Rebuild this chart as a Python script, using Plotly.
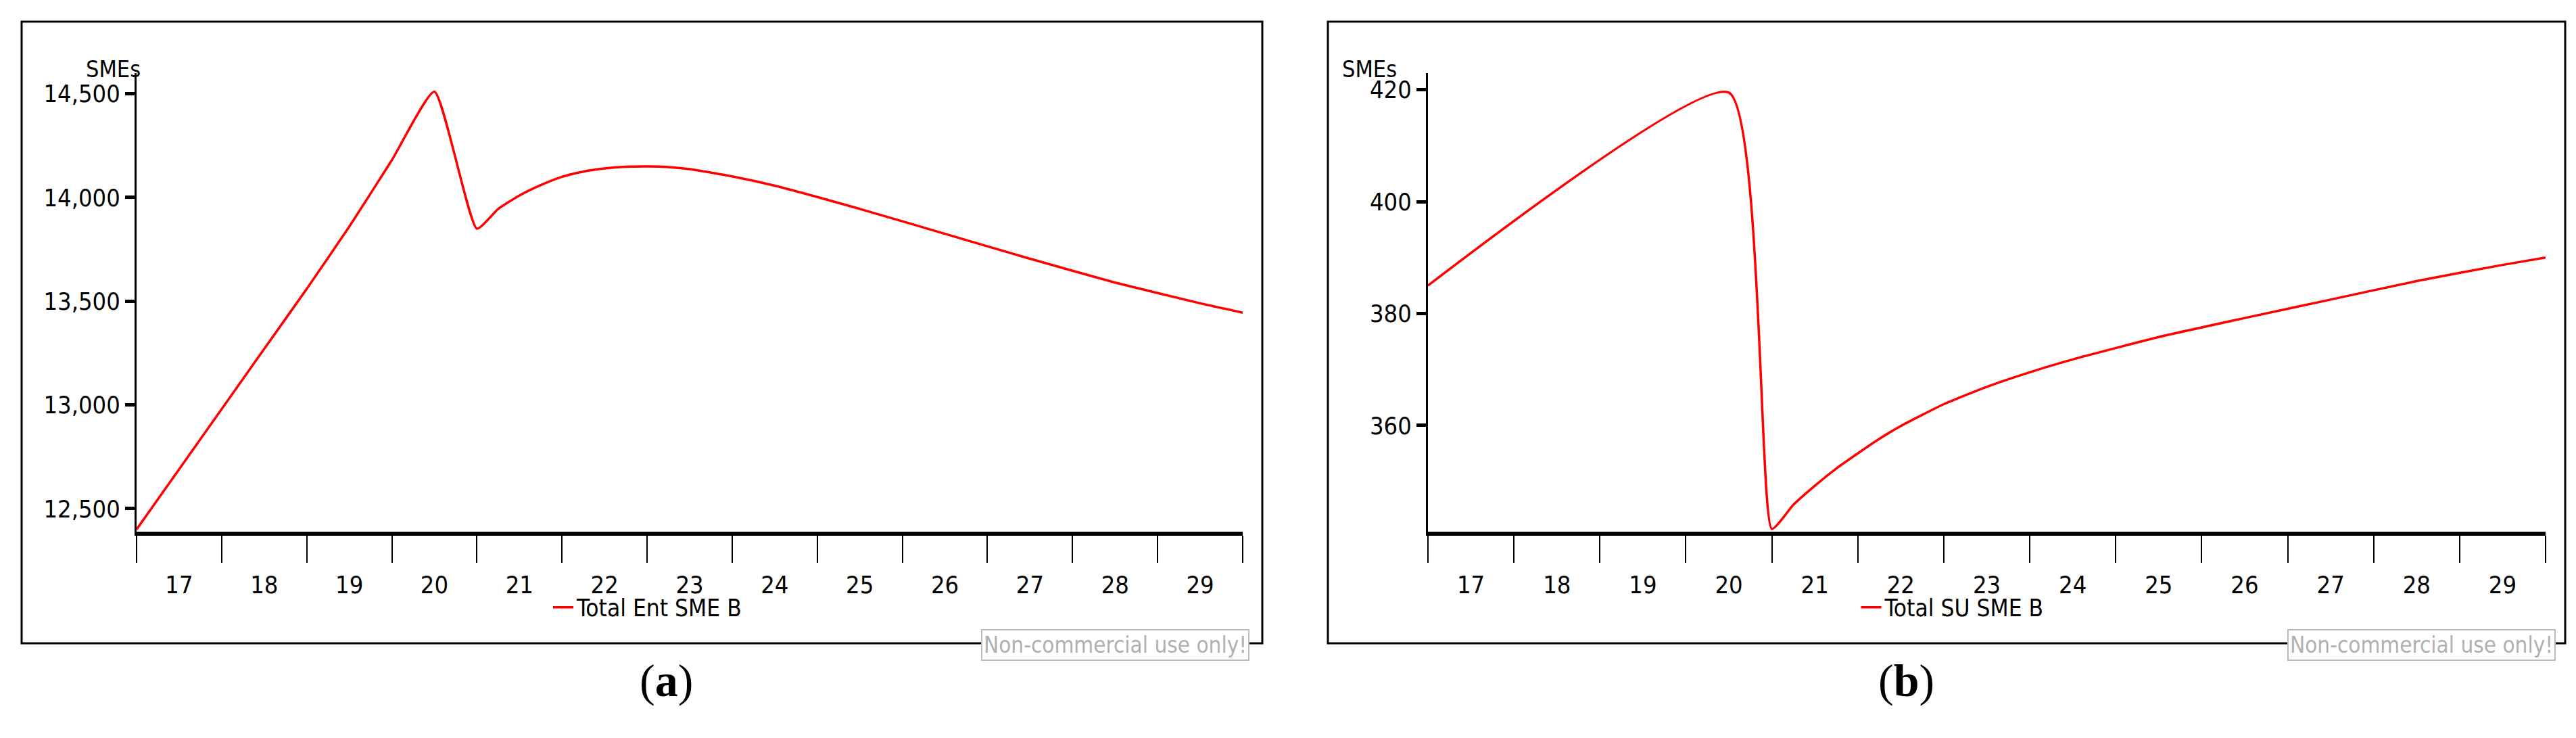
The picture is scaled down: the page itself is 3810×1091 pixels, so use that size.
import plotly.graph_objects as go

W, H = 3810, 1091
xa = [16.5, 17, 17.5, 18, 18.5, 19, 19.5, 20, 20.5, 20.75, 21, 21.25, 21.5, 21.75, 22, 22.25, 22.5, 22.75, 23, 23.5, 24, 25, 26, 27, 28, 29, 29.5]
ya = [12400, 12690, 12980, 13270, 13560, 13860, 14180, 14510, 13850, 13945, 14010, 14060, 14100, 14125, 14140, 14148, 14150, 14147, 14137, 14102, 14057, 13945, 13825, 13705, 13590, 13490, 13445]
xb = [16.5, 20, 20.5, 20.75, 21, 21.25, 21.5, 21.75, 22, 22.5, 23, 23.5, 24, 25, 26, 27, 28, 29, 29.5]
yb = [385, 419.5, 341.5, 345.8, 349.2, 352.3, 355, 357.6, 359.9, 363.8, 366.9, 369.5, 371.8, 375.8, 379.2, 382.5, 385.8, 388.7, 390]
xticks = list(range(17, 30))
yticks_a = [12500, 13000, 13500, 14000, 14500]
ytext_a = ["12,500", "13,000", "13,500", "14,000", "14,500"]
yticks_b = [360, 380, 400, 420]

FONT = "DejaVu Sans Condensed, DejaVu Sans"
fig = go.Figure()
fig.add_trace(go.Scatter(x=xa, y=ya, mode="lines", line=dict(color="#ff0000", width=3.5, shape="spline", smoothing=0.5),
                         name="Total Ent SME B", xaxis="x", yaxis="y", legend="legend"))
fig.add_trace(go.Scatter(x=xb, y=yb, mode="lines", line=dict(color="#ff0000", width=3.5, shape="spline", smoothing=0.5),
                         name="Total SU SME B", xaxis="x2", yaxis="y2", legend="legend2"))

yd = [1 - 778 / H, 1 - 100 / H]
def xax(dom, anchor):
    return dict(domain=dom, anchor=anchor, range=[16.5, 29.5], tickvals=xticks, ticks="",
                showgrid=False, zeroline=False, showline=True, linecolor="black", linewidth=6,
                tickfont=dict(size=36, color="black", family=FONT), ticklabelstandoff=42,
                minor=dict(ticks="outside", tick0=16.5, dtick=1, ticklen=40, tickwidth=2, tickcolor="black"))
def yax(dom, anchor, rng, tv, tt):
    return dict(domain=dom, anchor=anchor, range=rng, tickvals=tv, ticktext=tt, ticks="outside",
                ticklen=14, tickwidth=5, tickcolor="black", showgrid=False, zeroline=False,
                showline=True, linecolor="black", linewidth=3,
                tickfont=dict(size=36, color="black", family=FONT))

fig.update_layout(
    width=W, height=H, margin=dict(l=0, r=0, t=0, b=0),
    plot_bgcolor="white", paper_bgcolor="white",
    xaxis=xax([194 / W, 1830 / W], "y"),
    yaxis=yax(yd, "x", [12389, 14600], yticks_a, ytext_a),
    xaxis2=xax([2104 / W, 3757 / W], "y2"),
    yaxis2=yax(yd, "x2", [341, 423], yticks_b, [str(v) for v in yticks_b]),
    legend=dict(x=950 / W, y=1 - 890 / H, xanchor="center", yanchor="middle", orientation="h",
                font=dict(size=35, family=FONT, color="black"), bgcolor="rgba(0,0,0,0)"),
    legend2=dict(x=2880 / W, y=1 - 890 / H, xanchor="center", yanchor="middle", orientation="h",
                 font=dict(size=35, family=FONT, color="black"), bgcolor="rgba(0,0,0,0)"),
    showlegend=True,
)

for x0, x1 in [(24, 1859), (1956, 3786)]:
    fig.add_shape(type="rect", xref="paper", yref="paper", x0=x0 / W, x1=x1 / W,
                  y0=1 - 943 / H, y1=1 - 24 / H, line=dict(color="black", width=3), layer="below")
for xr in [1840, 3772]:
    fig.add_annotation(xref="paper", yref="paper", x=xr / W, y=1 - 945 / H, xanchor="right",
                       yanchor="middle", text="Non-commercial use only!", showarrow=False,
                       bordercolor="#bbbbbb", borderwidth=2, bgcolor="white", borderpad=2,
                       font=dict(size=33, color="#b0b0b0", family=FONT))
for x, t in [(117, "SMEs"), (2017, "SMEs")]:
    fig.add_annotation(xref="paper", yref="paper", x=x / W, y=1 - 72 / H, text=t, showarrow=False,
                       font=dict(size=34, color="black", family=FONT))
for x, t in [(936, "(<b>a</b>)"), (2855, "(<b>b</b>)")]:
    fig.add_annotation(xref="paper", yref="paper", x=x / W, y=1 - 1038 / H, text=t, showarrow=False,
                       font=dict(size=68, color="black", family="Liberation Serif"))

fig.write_html("out.html")
